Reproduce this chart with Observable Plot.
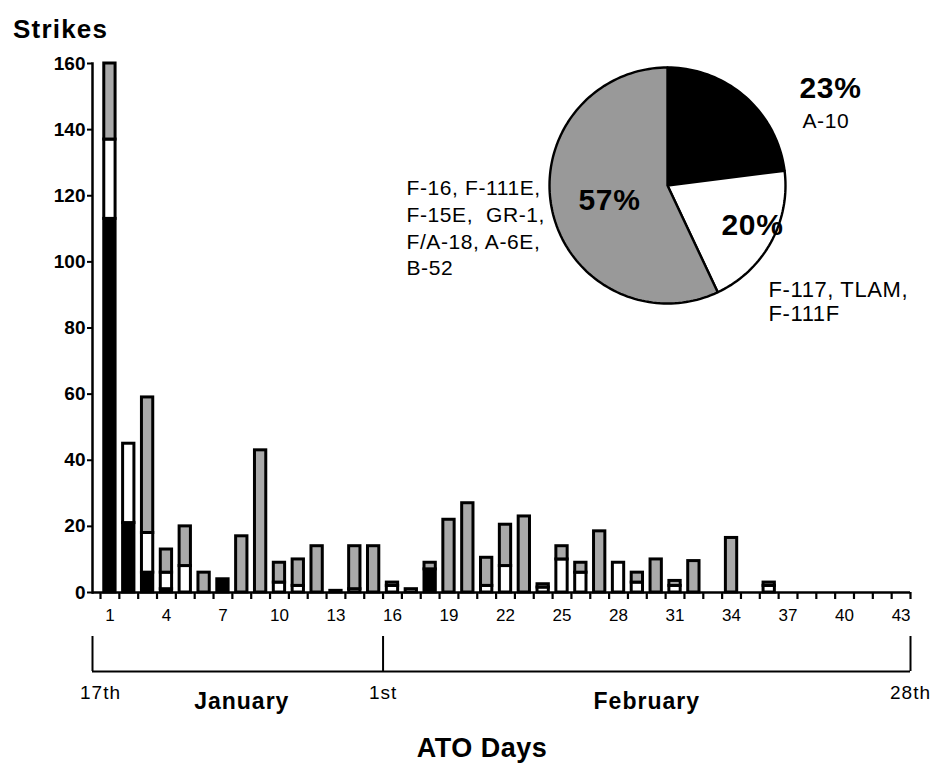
<!DOCTYPE html>
<html>
<head>
<meta charset="utf-8">
<script src="https://cdn.jsdelivr.net/npm/d3@7"></script>
<script src="https://cdn.jsdelivr.net/npm/@observablehq/plot@0.6"></script>
<style>
  body { margin: 0; background: #fff; }
  #wrap { position: relative; width: 936px; height: 766px; overflow: hidden; font-family: "Liberation Sans", Arial, sans-serif; color: #000; }
  #wrap > * { position: absolute; }
  .ytitle { left: 13px; top: 14px; font-size: 26px; font-weight: bold; letter-spacing: 1.2px; }
  .xtitle { left: 332px; width: 300px; text-align: center; top: 733px; font-size: 27px; font-weight: bold; letter-spacing: 0.5px; }
  #pie text { letter-spacing: 0.6px; }
  #bracket text { letter-spacing: 1px; }
</style>
</head>
<body>
<div id="wrap"></div>
<script>
// ---------- data ----------
const days = d3.range(1, 44);
// A-10 (black)
const a10 = [113, 21, 6, 1, 0, 0, 4, 0, 0, 0,
             0, 0, 0, 0, 0, 0, 0, 7, 0, 0,
             0, 0, 0, 0, 0, 0, 0, 0, 0, 0,
             0, 0, 0, 0, 0, 0, 0, 0, 0, 0,
             0, 0, 0];
// F-117, TLAM, F-111F (white)
const f117 = [24, 24, 12, 5, 8, 0, 0, 0, 0, 3,
              2, 0, 0, 1, 0, 2, 1, 0, 0, 0,
              2, 8, 0, 1.5, 10, 6, 0, 9, 3, 0,
              2, 0, 0, 0, 0, 2, 0, 0, 0, 0,
              0, 0, 0];
// F-16, F-111E, F-15E, GR-1, F/A-18, A-6E, B-52 (gray)
const others = [23, 0, 41, 7, 12, 6, 0, 17, 43, 6,
                8, 14, 0.5, 13, 14, 1, 0, 2, 22, 27,
                8.5, 12.5, 23, 1, 4, 3, 18.5, 0, 3, 10,
                1.5, 9.5, 0, 16.5, 0, 1, 0, 0, 0, 0,
                0, 0, 0];
const seriesNames = ["A-10", "F-117, TLAM, F-111F", "F-16, F-111E, F-15E, GR-1, F/A-18, A-6E, B-52"];
const yTicks = [0, 20, 40, 60, 80, 100, 120, 140, 160];
const xLabelDays = [1, 4, 7, 10, 13, 16, 19, 22, 25, 28, 31, 34, 37, 40, 43];
const monthStartDays = [1, 16];
const dateLabels = ["17th", "1st", "28th"];
const monthNames = ["January", "February"];
const pieShares = [23, 20, 57];
const pieTextLeft = ["F-16, F-111E,", "F-15E,  GR-1,", "F/A-18, A-6E,", "B-52"];
const pieTextRight = ["F-117, TLAM,", "F-111F"];
const pieTextTop = ["A-10"];

// ---------- styles ----------
const FONT = "'Liberation Sans', Arial, sans-serif";
const barFills = ["#000000", "#ffffff", "#a9a9a9"];
const pieFills = ["#000000", "#ffffff", "#999999"];
const xDomain = [0.075, 43.5];
const W = 936;

const rows = [];
days.forEach((d, i) => {
  [a10, f117, others].forEach((arr, s) => {
    if (arr[i] > 0) rows.push({day: d, series: seriesNames[s], s, value: arr[i]});
  });
});

const wrap = document.getElementById("wrap");

// title
const yt = document.createElement("div");
yt.className = "ytitle"; yt.textContent = "Strikes";
wrap.appendChild(yt);

// ---------- main bar chart ----------
const main = Plot.plot({
  width: W, height: 766,
  marginTop: 63, marginBottom: 174, marginLeft: 92, marginRight: 26,
  style: {fontFamily: FONT, background: "transparent", color: "#000"},
  x: {domain: xDomain, axis: null, label: null},
  y: {domain: [0, 160], axis: null, label: null},
  color: {type: "identity"},
  marks: [
    Plot.rectY(rows, {
      x1: d => d.day - 0.3, x2: d => d.day + 0.3, y: "value",
      fill: d => barFills[d.s], stroke: "#000", strokeWidth: 3
    }),
    Plot.axisY({ticks: yTicks, label: null, tickSize: 5, tickPadding: 2, fontSize: 19, fontWeight: "bold", strokeWidth: 2}),
    Plot.axisX({ticks: d3.range(0.5, days.length + 1, 1), label: null, tickFormat: () => "", tickSize: 7, strokeWidth: 2.2}),
    Plot.axisX({ticks: xLabelDays, label: null, tickSize: 0, tickPadding: 16, fontSize: 17}),
    Plot.frame({anchor: "left", strokeWidth: 2.5}),
    Plot.ruleY([0], {strokeWidth: 2.5})
  ]
});
main.style.left = "0px"; main.style.top = "0px";
wrap.appendChild(main);

// ---------- month bracket ----------
const bracketXs = [xDomain[0], monthStartDays[1] - 0.5, days[days.length - 1] + 0.5];
const labelXs = [monthStartDays[0] - 0.5, monthStartDays[1] - 0.5, days[days.length - 1] + 0.5];
const monthMids = monthNames.map((m, i) => ({
  name: m,
  x: (labelXs[i] + labelXs[i + 1]) / 2
}));
const bracket = Plot.plot({
  width: W, height: 140,
  marginTop: 0, marginBottom: 0, marginLeft: 92, marginRight: 26,
  style: {fontFamily: FONT, background: "transparent", color: "#000", overflow: "visible"},
  x: {domain: xDomain, axis: null},
  y: {domain: [0, 1], range: [45, 10], axis: null},
  marks: [
    Plot.ruleX(bracketXs, {y1: 0, y2: 1, strokeWidth: 2}),
    Plot.ruleY([0], {x1: bracketXs[0], x2: bracketXs[bracketXs.length - 1], strokeWidth: 2}),
    Plot.text(labelXs, {x: d => d, y: 0, text: (d, i) => dateLabels[i], dy: 21, fontSize: 19}),
    Plot.text(monthMids, {x: "x", y: 0, text: "name", dy: 30, fontSize: 23, fontWeight: "bold"})
  ]
});
bracket.id = "bracket";
bracket.style.left = "0px"; bracket.style.top = "626px";
wrap.appendChild(bracket);

const xt = document.createElement("div");
xt.className = "xtitle"; xt.textContent = "ATO Days";
wrap.appendChild(xt);

// ---------- pie inset ----------
const PIE_LEFT = 380, PIE_TOP = 40, CX = 287, CY = 145, R = 118;
const slices = [];
let acc = 0;
pieShares.forEach((s, i) => {
  const a0 = acc / 100 * 2 * Math.PI, a1 = (acc + s) / 100 * 2 * Math.PI;
  acc += s;
  const n = Math.ceil(s * 2);
  const pts = [{x: 0, y: 0}];
  for (let k = 0; k <= n; ++k) {
    const t = a0 + (a1 - a0) * k / n;
    pts.push({x: Math.sin(t), y: Math.cos(t)});
  }
  pts.push({x: 0, y: 0});
  slices.push(pts);
});
const pct = pieShares.map(s => s + "%");
const pie = Plot.plot({
  width: 556, height: 300,
  margin: 0,
  style: {fontFamily: FONT, background: "transparent", color: "#000", overflow: "visible"},
  x: {domain: [-1, 1], range: [CX - R, CX + R], axis: null},
  y: {domain: [-1, 1], range: [CY + R, CY - R], axis: null},
  marks: [
    ...slices.map((pts, i) => Plot.line(pts, {x: "x", y: "y", fill: pieFills[i], stroke: "#000", strokeWidth: 2.4, strokeLinejoin: "round"})),
    Plot.text([pct[0]], {x: 0, y: 0, dx: 163, dy: -97, fontSize: 30, fontWeight: "bold"}),
    Plot.text(pieTextTop, {x: 0, y: 0, dx: 135, dy: -64, fontSize: 21, textAnchor: "start"}),
    Plot.text([pct[1]], {x: 0, y: 0, dx: 85, dy: 40, fontSize: 30, fontWeight: "bold"}),
    Plot.text([pct[2]], {x: 0, y: 0, dx: -58, dy: 15, fontSize: 30, fontWeight: "bold"}),
    Plot.text([pieTextRight.join("\n")], {x: 0, y: 0, dx: 101, dy: 94, fontSize: 22, textAnchor: "start", lineAnchor: "top", lineHeight: 1.09}),
    Plot.text([pieTextLeft.join("\n")], {x: 0, y: 0, dx: -261, dy: -9, fontSize: 21, textAnchor: "start", lineAnchor: "top", lineHeight: 1.27})
  ]
});
pie.id = "pie";
pie.style.left = PIE_LEFT + "px"; pie.style.top = PIE_TOP + "px";
wrap.appendChild(pie);
</script>
</body>
</html>
